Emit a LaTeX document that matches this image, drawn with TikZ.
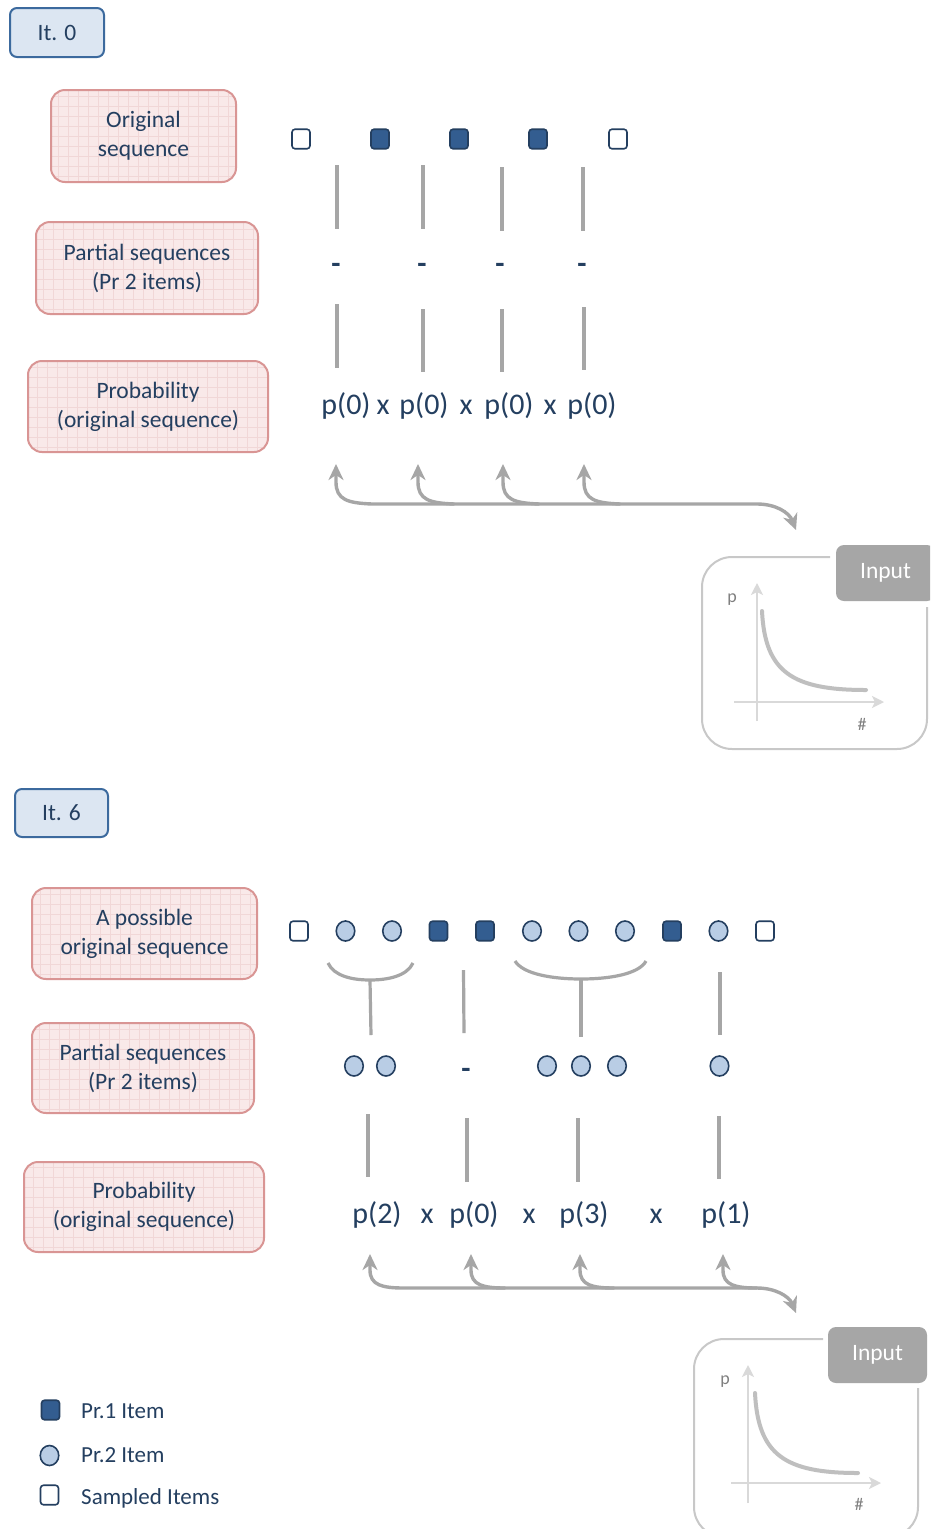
\documentclass[tikz,border=0pt]{standalone}
\usepackage{fontspec}
\setmainfont{Carlito}
\usetikzlibrary{arrows.meta,shapes.geometric}

\definecolor{ink}{HTML}{243F60}
\definecolor{navyfill}{HTML}{335D90}
\definecolor{paleblue}{HTML}{B9CDE5}
\definecolor{itfill}{HTML}{DCE6F2}
\definecolor{itline}{HTML}{3C6A9E}
\definecolor{pinkfill}{HTML}{F9E9E9}
\definecolor{pinkgrid}{HTML}{F1D7D7}
\definecolor{pinkline}{HTML}{D99594}
\definecolor{conn}{HTML}{A6A6A6}
\definecolor{framegray}{HTML}{C8C8C8}
\definecolor{axisgray}{HTML}{D9D9D9}
\definecolor{curvegray}{HTML}{BFBFBF}
\definecolor{tabgray}{HTML}{A6A6A6}
\definecolor{axislabel}{HTML}{808080}

\tikzset{
  txt/.style={text=ink, font=\fontsize{23.5}{29}\selectfont, align=center},
  itbox/.style={txt, draw=itline, line width=2pt, fill=itfill, rounded corners=7pt,
    minimum width=94, minimum height=49, inner sep=0},
  rolebox/.style={txt, draw=pinkline, line width=2pt, fill=pinkfill, rounded corners=14pt,
    inner sep=0,
    path picture={\draw[pinkgrid, line width=0.6pt, step=10pt]
      (path picture bounding box.south west) grid (path picture bounding box.north east);}},
  seqsq/.style={draw=ink, line width=1.6pt, rounded corners=3pt,
    minimum width=18, minimum height=19.5, inner sep=0},
  pr1/.style={seqsq, fill=navyfill},
  smp/.style={seqsq, fill=white},
  pr2/.style={ellipse, draw=ink, line width=1.6pt, fill=paleblue,
    minimum width=18.5, minimum height=20, inner sep=0},
  link/.style={draw=conn, line width=3.2pt},
  prob/.style={text=ink, font=\fontsize{30}{36}\selectfont, inner sep=0, anchor=base},
  gap/.style={text=ink, font=\fontsize{30}{36}\selectfont\bfseries, inner sep=0, anchor=base},
  feed/.style={draw=conn, line width=3.4pt, line cap=round,
    >={Stealth[length=16pt,width=15pt,inset=5pt]}},
  frameline/.style={draw=framegray, line width=2pt, rounded corners=30pt},
  inputtab/.style={fill=tabgray, rounded corners=8pt, text=white,
    font=\fontsize{23.5}{29}\selectfont, minimum width=99, minimum height=56, inner sep=0},
  axisline/.style={draw=axisgray, line width=2pt, -{Stealth[length=12pt,width=12pt,inset=3pt]}},
  decay/.style={draw=curvegray, line width=4pt, line cap=round},
  axislbl/.style={text=axislabel, font=\fontsize{18}{21}\selectfont, inner sep=0},
  legtxt/.style={text=ink, font=\fontsize{23}{28}\selectfont, anchor=west, inner sep=0},
}

\begin{document}
\begin{tikzpicture}[x=1pt,y=-1pt]
\useasboundingbox (0,0) rectangle (930,1529);
\clip (0,0) rectangle (930,1529);
\fill[white] (0,0) rectangle (930,1529);

% ================= iteration 0 =================
\node[itbox] (it0) at (57,32.5) {It. 0};
\node[rolebox, minimum width=185, minimum height=92] (orig0) at (143.5,136) {Original\\sequence};
\node[rolebox, minimum width=222, minimum height=92] (part0) at (147,268) {Partial sequences\\(Pr 2 items)};
\node[rolebox, minimum width=240, minimum height=91] (prob0) at (148,406.5) {Probability\\(original sequence)};

% sequence row
\node[smp] (a1) at (301,139) {};
\node[pr1] (a2) at (380,139) {};
\node[pr1] (a3) at (459,139) {};
\node[pr1] (a4) at (538,139) {};
\node[smp] (a5) at (618,139) {};

% empty partial sequences
\node[gap] (g1) at (336,273) {-};
\node[gap] (g2) at (422,273) {-};
\node[gap] (g3) at (500,273) {-};
\node[gap] (g4) at (582,273) {-};

\draw[link] (337,165) -- (337,229);
\draw[link] (423,165) -- (423,229);
\draw[link] (502,167) -- (502,231);
\draw[link] (583,167) -- (583,231);

\draw[link] (337,304) -- (337,368);
\draw[link] (423,309) -- (423,372);
\draw[link] (502,309) -- (502,372);
\draw[link] (584,307) -- (584,370);

% product of probabilities
\node[prob] (q1) at (346,414) {p(0)};
\node[prob] (x1) at (383,414) {x};
\node[prob] (q2) at (424,414) {p(0)};
\node[prob] (x2) at (466,414) {x};
\node[prob] (q3) at (509,414) {p(0)};
\node[prob] (x3) at (550,414) {x};
\node[prob] (q4) at (592,414) {p(0)};

% feedback from the input distribution
\coordinate (t1) at (336,464);
\coordinate (t2) at (418,464);
\coordinate (t3) at (503,464);
\coordinate (t4) at (584,464);
\coordinate (o1) at (796,530);
\draw[feed, <->]
  (t1) -- (336,482) .. controls (336,500) and (348,503) .. (372,504)
  -- (757,504) .. controls (775,504) and (789,512) .. (o1);
\draw[feed, <-] (t2) -- (418,482) .. controls (418,500) and (430,503) .. (454,504);
\draw[feed, <-] (t3) -- (503,482) .. controls (503,500) and (515,503) .. (539,504);
\draw[feed, <-] (t4) -- (584,482) .. controls (584,500) and (596,503) .. (620,504);

% input distribution panel
\draw[frameline] (830,557) -- (702,557) -- (702,749) -- (927,749) -- (927,607);
\node[inputtab] (in0) at (885.5,573) {Input};
\draw[axisline] (757,721) -- (757,583);
\draw[axisline] (734,702) -- (884,702);
\draw[decay] (762,611) .. controls (765,672) and (792,690) .. (866,690);
\node[axislbl] (p0) at (732,600) {p};
\node[axislbl] (h0) at (862,724) {\#};

% ================= iteration 6 =================
\node[itbox, minimum width=93, minimum height=48] (it6) at (61.5,813) {It. 6};
\node[rolebox, minimum width=225, minimum height=91] (orig6) at (144.5,933.5) {A possible\\original sequence};
\node[rolebox, minimum width=222, minimum height=90] (part6) at (143,1068) {Partial sequences\\(Pr 2 items)};
\node[rolebox, minimum width=240, minimum height=90] (prob6) at (144,1207) {Probability\\(original sequence)};

% sequence row
\node[smp] (b1) at (299,931) {};
\node[pr2] (b2) at (345.5,931) {};
\node[pr2] (b3) at (392,931) {};
\node[pr1] (b4) at (438.5,931) {};
\node[pr1] (b5) at (485,931) {};
\node[pr2] (b6) at (532,931) {};
\node[pr2] (b7) at (578.5,931) {};
\node[pr2] (b8) at (625,931) {};
\node[pr1] (b9) at (672,931) {};
\node[pr2] (b10) at (718.5,931) {};
\node[smp] (b11) at (765,931) {};

% partial sequences
\node[pr2] (c1) at (354,1066) {};
\node[pr2] (c2) at (386,1066) {};
\node[gap] (c3) at (466,1078) {-};
\node[pr2] (c4) at (547,1066) {};
\node[pr2] (c5) at (581,1066) {};
\node[pr2] (c6) at (617,1066) {};
\node[pr2] (c7) at (719.5,1066) {};

% groupings
\draw[link] (328,963) .. controls (334,976) and (352,980) .. (370,980)
  .. controls (388,980) and (407,976) .. (413,963);
\draw[link] (370,980) -- (371,1035);
\draw[link] (463.5,970) -- (464,1033);
\draw[link] (515,961) .. controls (523,974) and (552,979) .. (581,979)
  .. controls (610,979) and (639,974) .. (646,961);
\draw[link] (581,979) -- (581,1037);
\draw[link] (720,972) -- (720,1035);

\draw[link] (368,1114) -- (368,1177);
\draw[link] (467,1118) -- (467,1182);
\draw[link] (578,1118) -- (578,1182);
\draw[link] (719,1116) -- (719,1179);

% product of probabilities
\node[prob] (r1) at (377,1223) {p(2)};
\node[prob] (y1) at (427,1223) {x};
\node[prob] (r2) at (474,1223) {p(0)};
\node[prob] (y2) at (529,1223) {x};
\node[prob] (r3) at (584,1223) {p(3)};
\node[prob] (y3) at (656,1223) {x};
\node[prob] (r4) at (726,1223) {p(1)};

% feedback from the input distribution
\coordinate (s1) at (370,1254);
\coordinate (s2) at (471,1254);
\coordinate (s3) at (580,1254);
\coordinate (s4) at (723,1254);
\coordinate (o2) at (796,1313);
\draw[feed, <->]
  (s1) -- (370,1270) .. controls (370,1285) and (382,1288) .. (404,1288)
  -- (757,1288) .. controls (775,1288) and (789,1296) .. (o2);
\draw[feed, <-] (s2) -- (471,1270) .. controls (471,1285) and (483,1288) .. (505,1288);
\draw[feed, <-] (s3) -- (580,1270) .. controls (580,1285) and (592,1288) .. (614,1288);
\draw[feed, <-] (s4) -- (723,1270) .. controls (723,1285) and (735,1288) .. (757,1288);

% input distribution panel
\draw[frameline] (823,1339) -- (694,1339) -- (694,1537) -- (918,1537) -- (918,1388);
\node[inputtab] (in6) at (877.5,1355) {Input};
\draw[axisline] (748,1503) -- (748,1365);
\draw[axisline] (731,1483) -- (881,1483);
\draw[decay] (755,1393) .. controls (758,1455) and (785,1473) .. (858,1473);
\node[axislbl] (p6) at (725,1382) {p};
\node[axislbl] (h6) at (859,1504) {\#};

% ================= legend =================
\node[pr1] (l1) at (50.5,1410) {};
\node[pr2] (l2) at (49.5,1455.5) {};
\node[smp] (l3) at (49.5,1495) {};
\node[legtxt] (lt1) at (81,1411) {Pr.1 Item};
\node[legtxt] (lt2) at (81,1455) {Pr.2 Item};
\node[legtxt] (lt3) at (81,1498) {Sampled Items};
\end{tikzpicture}
\end{document}
